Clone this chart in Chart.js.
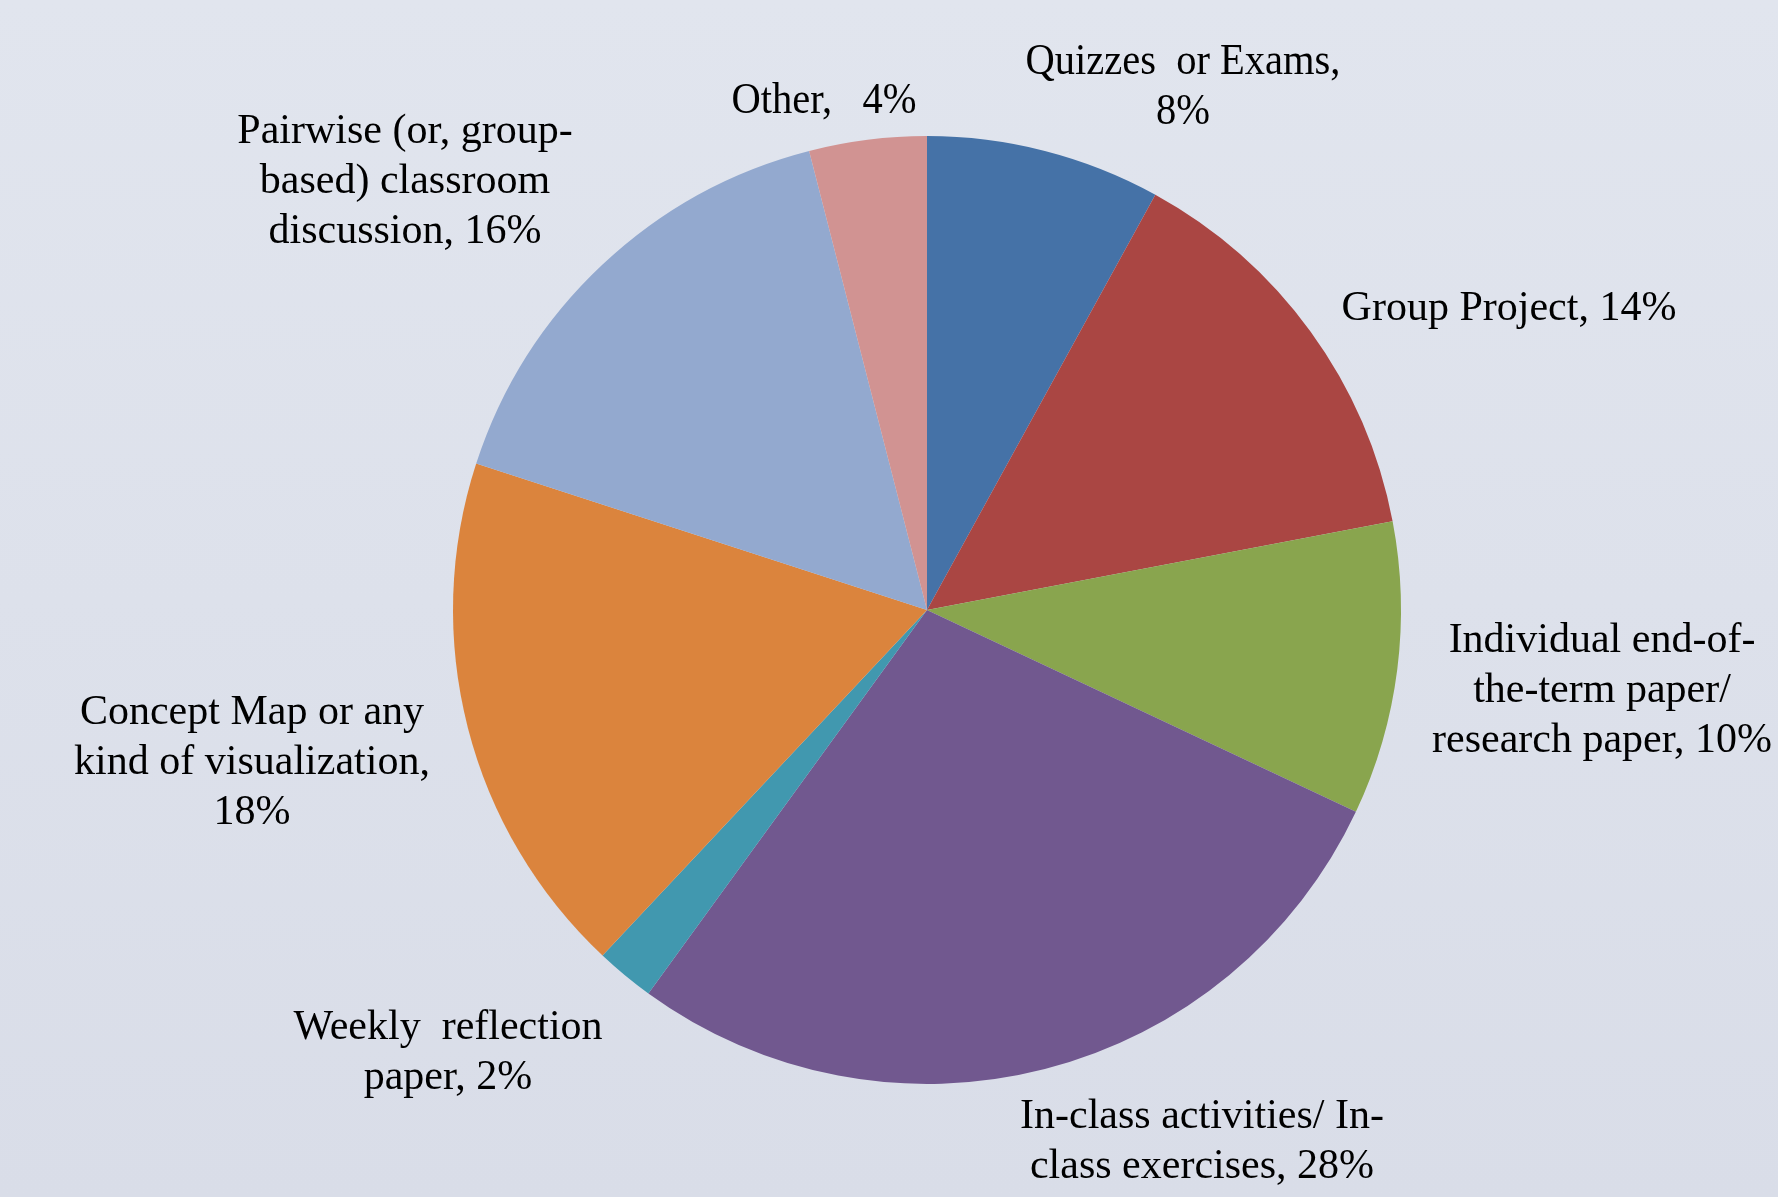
<!DOCTYPE html>
<html>
<head>
<meta charset="utf-8">
<script src="https://cdn.jsdelivr.net/npm/chart.js@4.4.0/dist/chart.umd.min.js"></script>
<style>
html,body{margin:0;padding:0;}
body{width:1778px;height:1197px;background:linear-gradient(to bottom,#E1E5EE 0%,#D9DDE8 100%);overflow:hidden;}
#wrap{position:absolute;left:0;top:0;width:1778px;height:1197px;}
</style>
</head>
<body>
<div id="wrap"><canvas id="c" width="1778" height="1197"></canvas></div>
<script>
const categories = [
  "Quizzes or Exams",
  "Group Project",
  "Individual end-of-the-term paper/ research paper",
  "In-class activities/ In-class exercises",
  "Weekly reflection paper",
  "Concept Map or any kind of visualization",
  "Pairwise (or, group-based) classroom discussion",
  "Other"
];
const values = [8, 14, 10, 28, 2, 18, 16, 4];
const colors = ["#4572A7", "#AA4643", "#89A54E", "#71588F", "#4198AF", "#DB843D", "#93A9CF", "#D19392"];
const labelLines = [
  ["Quizzes  or Exams,", "8%"],
  ["Group Project, 14%"],
  ["Individual end-of-", "the-term paper/", "research paper, 10%"],
  ["In-class activities/ In-", "class exercises, 28%"],
  ["Weekly  reflection", "paper, 2%"],
  ["Concept Map or any", "kind of visualization,", "18%"],
  ["Pairwise (or, group-", "based) classroom", "discussion, 16%"],
  ["Other,   4%"]
];

// label layout (center x, first-line y, horizontal scale, font size)
const labelLayout = [
  {x:1183, y:62, sx:0.9, fs:45},
  {x:1509, y:309, sx:1, fs:42},
  {x:1602, y:641, sx:1, fs:42},
  {x:1202, y:1117, sx:1, fs:42},
  {x:448, y:1028, sx:1, fs:42},
  {x:252, y:713, sx:1, fs:42},
  {x:405, y:132, sx:1, fs:42},
  {x:824, y:101, sx:0.9, fs:45}
];

const labelPlugin = {
  id: 'outLabels',
  afterDatasetsDraw(chart) {
    const ctx = chart.ctx;
    ctx.save();
    ctx.fillStyle = '#000';
    ctx.textAlign = 'center';
    ctx.textBaseline = 'middle';
    labelLines.forEach((lines, i) => {
      const L = labelLayout[i];
      ctx.font = L.fs + 'px "Liberation Serif", "Times New Roman", serif';
      lines.forEach((t, j) => {
        ctx.save();
        ctx.translate(L.x, L.y + j * 50);
        ctx.scale(L.sx, 1);
        ctx.fillText(t, 0, 0);
        ctx.restore();
      });
    });
    ctx.restore();
  }
};

new Chart(document.getElementById('c'), {
  type: 'pie',
  data: {
    labels: categories,
    datasets: [{
      data: values,
      backgroundColor: colors,
      borderWidth: 0
    }]
  },
  options: {
    responsive: false,
    animation: false,
    layout: { padding: { top: 136, bottom: 113, left: 453, right: 377 } },
    plugins: {
      legend: { display: false },
      tooltip: { enabled: false }
    }
  },
  plugins: [labelPlugin]
});
</script>
</body>
</html>
